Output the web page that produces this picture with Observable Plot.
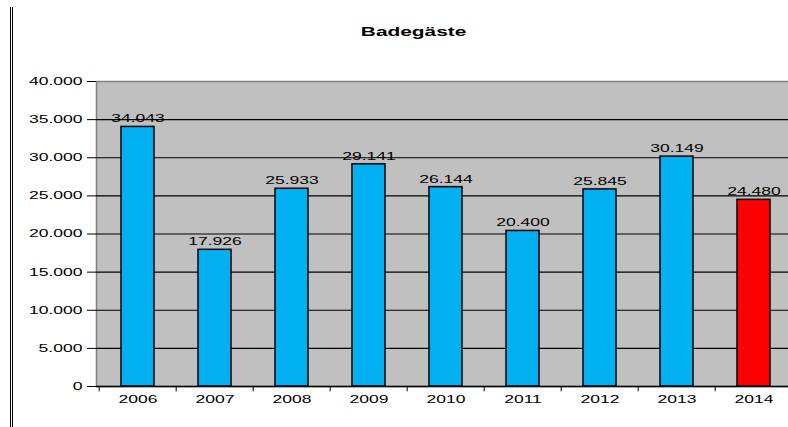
<!DOCTYPE html>
<html>
<head>
<meta charset="utf-8">
<script src="https://cdn.jsdelivr.net/npm/d3@7"></script>
<script src="https://cdn.jsdelivr.net/npm/@observablehq/plot@0.6"></script>
<style>
  html, body { margin: 0; padding: 0; background: #fff; overflow: hidden; }
  #wrap { position: relative; width: 788px; height: 427px; overflow: hidden; }
  #title { position: absolute; left: 0; width: 828px; top: 22px; text-align: center; }
  #title span { display: inline-block; transform: scaleX(1.67); transform-origin: center;
    font: bold 12.5px "Liberation Sans", Arial, sans-serif; color: #000; }
  #frame1, #frame2 { position: absolute; top: 7px; bottom: 0; width: 1px; background: #000; }
  #frame1 { left: 10px; } #frame2 { left: 12px; }
  #chart { position: absolute; left: 0; top: 0; }
  #chart svg { max-width: none !important; }
</style>
</head>
<body>
<div id="wrap">
  <div id="frame1"></div><div id="frame2"></div>
  <div id="chart"></div>
  <div id="title"><span>Badegäste</span></div>
</div>
<script>
const years = ["2006","2007","2008","2009","2010","2011","2012","2013","2014"];
const guests = [34043, 17926, 25933, 29141, 26144, 20400, 25845, 30149, 24480];
const barColors = ["#00B0F0","#00B0F0","#00B0F0","#00B0F0","#00B0F0","#00B0F0","#00B0F0","#00B0F0","#FF0000"];
const yTicks = [0, 5000, 10000, 15000, 20000, 25000, 30000, 35000, 40000];

const data = years.map((y, i) => ({year: y, value: guests[i], color: barColors[i]}));
const fmt = d3.formatLocale({decimal: ",", thousands: ".", grouping: [3], currency: ["", "€"]}).format(",d");

const W = 795;
const ML = 96;
const step = (W - ML) / years.length;

const chart = Plot.plot({
  width: W,
  height: 427,
  marginLeft: ML,
  marginRight: 0,
  marginTop: 81,
  marginBottom: 41,
  style: {fontFamily: "'Liberation Sans', Arial, sans-serif", fontSize: "10.5px", color: "#000", overflow: "visible", maxWidth: "none"},
  x: {domain: years, paddingInner: 0.575, paddingOuter: 0.2875, label: null},
  y: {domain: [0, 40000], label: null},
  marks: [
    Plot.frame({fill: "#C0C0C0", stroke: "#808080", strokeWidth: 1.5}),
    Plot.ruleY(yTicks.filter(d => d > 0 && d < 40000), {stroke: "#000", strokeWidth: 1.2}),
    Plot.axisY(yTicks, {tickFormat: fmt, tickSize: 9, tickPadding: 5, stroke: "#000", fontSize: 10.5, label: null}),
    Plot.axisX({tickSize: 0, tickPadding: 9, fontSize: 10.5, label: null}),
    Plot.ruleX(years, {x: d => d, y1: 0, y2: -700, dx: -step / 2, stroke: "#000", strokeWidth: 1}),
    Plot.barY(data, {x: "year", y: "value", fill: "color", stroke: "#000", strokeWidth: 1.5}),
    Plot.ruleY([0], {stroke: "#000", strokeWidth: 1.5}),
    Plot.text(data, {x: "year", y: "value", text: d => fmt(d.value), dy: -8, fontSize: 10.5, fill: "#000"})
  ]
});
document.getElementById("chart").appendChild(chart);
// stretch glyphs horizontally like the original rendering
chart.querySelectorAll("text").forEach(t => {
  const len = t.getComputedTextLength();
  if (len > 0) {
    t.setAttribute("textLength", (len * 1.67).toFixed(1));
    t.setAttribute("lengthAdjust", "spacingAndGlyphs");
  }
});
</script>
</body>
</html>
